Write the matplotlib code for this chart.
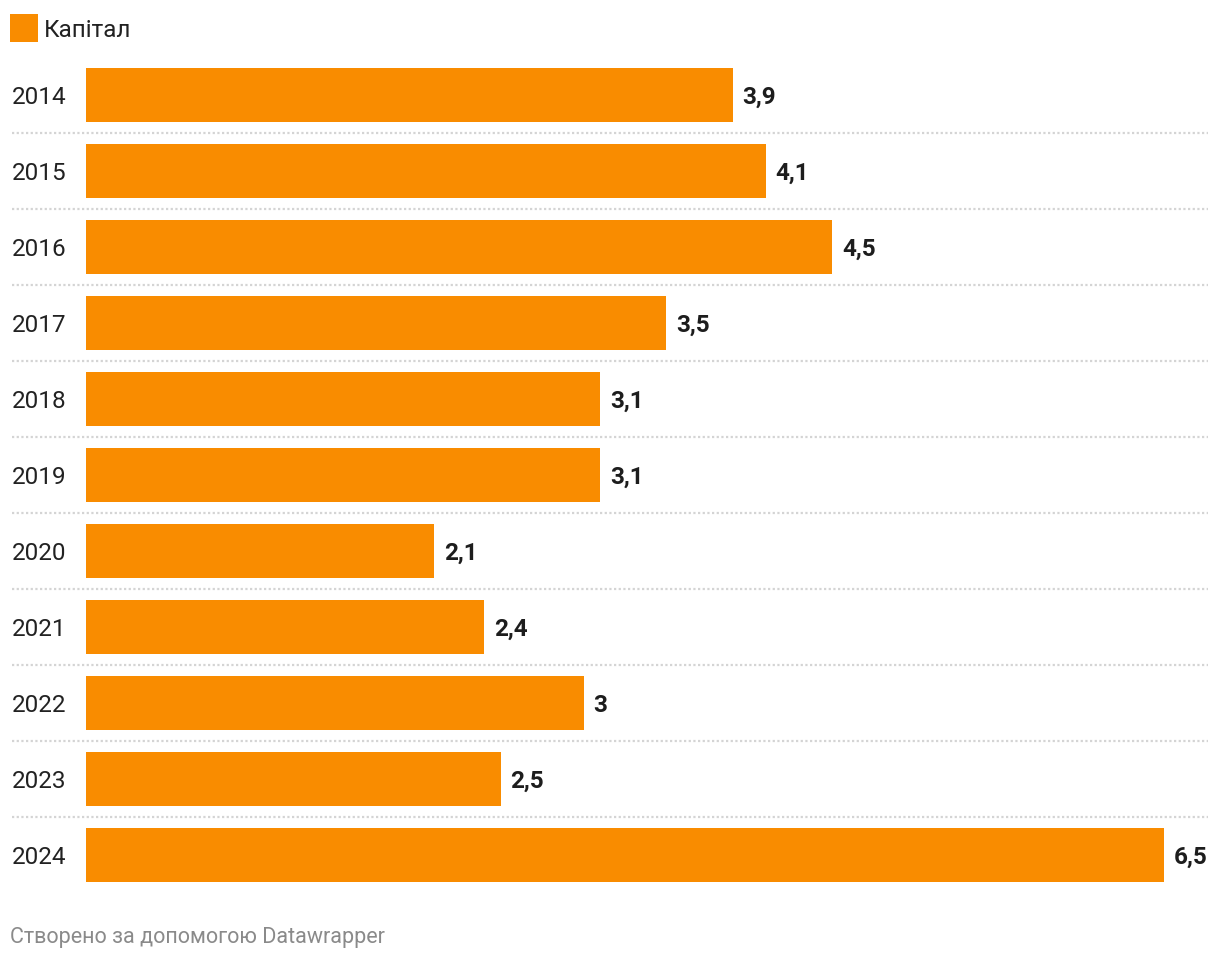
import matplotlib.pyplot as plt
from matplotlib.patches import Rectangle
from matplotlib.transforms import blended_transform_factory

years = ['2014', '2015', '2016', '2017', '2018', '2019', '2020', '2021', '2022', '2023', '2024']
capital = [3.9, 4.1, 4.5, 3.5, 3.1, 3.1, 2.1, 2.4, 3.0, 2.5, 6.5]
legend_label = 'Капітал'
footer = 'Створено за допомогою Datawrapper'

W, H = 1220, 960
orange = '#f98c00'

plt.rcParams['font.family'] = ['Roboto', 'DejaVu Sans']

fig = plt.figure(figsize=(W / 100, H / 100), dpi=100)

# axes placed in pixel terms: bars start at x=86, 6.5 reaches x=1164
left, right = 86, 1164
top, bottom = 57, 893
ax = fig.add_axes([left / W, 1 - bottom / H, (right - left) / W, (bottom - top) / H])

n = len(years)
pos = list(range(n))
ax.barh(pos, capital, height=54 / 76, color=orange, zorder=2)
ax.set_xlim(0, 6.5)
ax.set_ylim(n - 0.5, -0.5)
ax.axis('off')

def fmt(v):
    s = ('%g' % v).replace('.', ',')
    return s

for i, v in enumerate(capital):
    ax.annotate(fmt(v), (v, i), xytext=(7, 0), textcoords='offset points',
                ha='left', va='center_baseline', fontsize=17.5, fontweight='bold', color='#1d1d1d')

# year labels at fixed pixel x
tr = blended_transform_factory(fig.transFigure, ax.transData)
for i, y in enumerate(years):
    ax.text(12 / W, i, y, transform=tr, ha='left', va='center_baseline', fontsize=17.5, color='#222222')

# dotted separators between rows
for i in range(n - 1):
    ax.plot([12 / W, 1208 / W], [i + 0.5, i + 0.5], transform=tr, clip_on=False,
            color='#d4d4d4', linewidth=1.6, linestyle=(0, (1, 1.1)), zorder=1)

# legend
fig.patches.append(Rectangle((10 / W, 1 - 42 / H), 28 / W, 28 / H, transform=fig.transFigure,
                             facecolor=orange, edgecolor='none'))
fig.text(44 / W, 1 - 28 / H, legend_label, ha='left', va='center_baseline', fontsize=17.5, color='#222222')

# footer
fig.text(10 / W, 1 - 935 / H, footer, ha='left', va='center_baseline', fontsize=15.5, color='#8a8a8a')

fig.savefig('out.png', dpi=100)
